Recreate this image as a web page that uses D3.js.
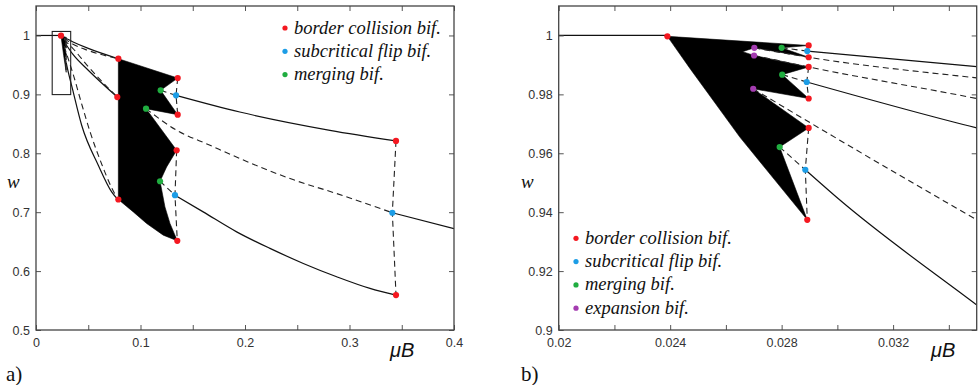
<!DOCTYPE html>
<html>
<head>
<meta charset="utf-8">
<script src="https://cdn.jsdelivr.net/npm/d3@7"></script>
<style>
body { margin: 0; background: #fff; }
svg { display: block; }
.tick text { font-family: "Liberation Sans", Arial, Helvetica, sans-serif; font-size: 12.5px; fill: #333; }
.tick line { stroke: #555; }
.serif { font-family: "Liberation Serif", "Times New Roman", Times, "DejaVu Serif", serif; }
.legend text { font-style: italic; font-size: 18.5px; fill: #111; }
</style>
</head>
<body>
<svg id="fig" width="980" height="385"></svg>
<script>

/////// Data (muB, w) ///////

var tip = [0.0239, 0.9997];
var flatLine = [[0, 1], [0.0239, 1]];

// branches born inside the small box, they run on into panel a
var solid1 = [[0.02892, 0.9947], [0.035, 0.9894], [0.05, 0.978], [0.0788, 0.9605]];
var solid2 = [[0.0289, 0.9842], [0.035, 0.9686], [0.05, 0.941], [0.0778, 0.8954]];
var solid3 = [[0.02885, 0.9544], [0.03008, 0.9442], [0.035, 0.9085], [0.0437, 0.8475], [0.0596, 0.7797], [0.0724, 0.7344], [0.0788, 0.7203]];
var dashed1 = [[0.02702, 0.9958], [0.02897, 0.9926], [0.035, 0.9856], [0.05, 0.9745], [0.0788, 0.9605]];
var dashed2 = [[0.02701, 0.9932], [0.02897, 0.9893], [0.035, 0.9786], [0.05, 0.947], [0.0778, 0.8954]];
var dashed3 = [[0.02698, 0.9819], [0.029, 0.9705], [0.03379, 0.944], [0.035, 0.9374], [0.043, 0.888], [0.052, 0.835], [0.063, 0.781], [0.072, 0.743], [0.0788, 0.7203]];

// small dashed pieces near muB = 0.029
var dashSmall = [
  [[0.0280, 0.9958], [0.02892, 0.9947]],
  [[0.02897, 0.9966], [0.02892, 0.9947], [0.02897, 0.9926]],
  [[0.02802, 0.9867], [0.0289, 0.9842]],
  [[0.02897, 0.9893], [0.0289, 0.9842], [0.02897, 0.9786]],
  [[0.02793, 0.9621], [0.02885, 0.9544]],
  [[0.02897, 0.9686], [0.02885, 0.9544], [0.02892, 0.9374]]
];

// chaotic attractor near the border collision
var chaosB = [[0.0239, 0.9997], [0.02897, 0.9966], [0.0280, 0.9958], [0.02897, 0.9926], [0.02702, 0.9958],
  [0.0266, 0.9945], [0.02701, 0.9932], [0.02897, 0.9893], [0.02802, 0.9867], [0.02897, 0.9786],
  [0.02698, 0.9819], [0.02897, 0.9686], [0.02793, 0.9621], [0.02892, 0.9374], [0.0265, 0.9655], [0.02471, 0.9888]];

// panel a only
var chaosA = [[0.0788, 0.9605], [0.1356, 0.9277], [0.1193, 0.9068], [0.1356, 0.8655], [0.1053, 0.8757],
  [0.1346, 0.805], [0.125, 0.7768], [0.1187, 0.7525], [0.1234, 0.709], [0.1282, 0.681], [0.1352, 0.6514],
  [0.1218, 0.661], [0.1059, 0.6808], [0.0931, 0.7005], [0.0788, 0.7215]];
var solidA = [
  [[0.134, 0.8983], [0.195, 0.870], [0.2813, 0.839], [0.3445, 0.821]],
  [[0.133, 0.7288], [0.16, 0.7005], [0.192, 0.6666], [0.2239, 0.6385], [0.2558, 0.613], [0.2877, 0.5904], [0.3196, 0.5706], [0.3445, 0.5593]],
  [[0.341, 0.699], [0.4, 0.672]]
];
var dashedA = [
  [[0.1193, 0.9068], [0.134, 0.8983]],
  [[0.1356, 0.9277], [0.134, 0.8983], [0.1356, 0.8655]],
  [[0.1053, 0.8757], [0.1346, 0.839], [0.1665, 0.8136], [0.1952, 0.791], [0.2459, 0.7553], [0.2877, 0.7316], [0.341, 0.699]],
  [[0.1346, 0.805], [0.133, 0.7288], [0.1352, 0.6514]],
  [[0.1187, 0.7525], [0.133, 0.7288]],
  [[0.3445, 0.821], [0.341, 0.699], [0.3445, 0.5593]]
];
var zoomBox = [[0.0155, 0.8996], [0.0332, 1.0068]];

// bifurcation points
var redA = [tip, [0.0788, 0.9605], [0.0778, 0.8954], [0.0788, 0.7215], [0.1356, 0.9277], [0.1356, 0.8655],
  [0.1346, 0.805], [0.1352, 0.6514], [0.3445, 0.821], [0.3445, 0.5593]];
var blueA = [[0.134, 0.8983], [0.133, 0.7288], [0.341, 0.699]];
var greenA = [[0.1193, 0.9068], [0.1053, 0.8757], [0.1187, 0.7525]];

var redB = [tip, [0.02897, 0.9966], [0.02897, 0.9926], [0.02897, 0.9893], [0.02897, 0.9786], [0.02897, 0.9686], [0.02892, 0.9374]];
var blueB = [[0.02892, 0.9947], [0.0289, 0.9842], [0.02885, 0.9544]];
var greenB = [[0.0280, 0.9958], [0.02802, 0.9867], [0.02793, 0.9621]];
var magentaB = [[0.02702, 0.9958], [0.02701, 0.9932], [0.02698, 0.9819]];

// ticks
var aXTicks = [0, 0.05, 0.1, 0.15, 0.2, 0.25, 0.3, 0.35, 0.4];
var aXLabels = ["0", "", "0.1", "", "0.2", "", "0.3", "", "0.4"];
var aYTicks = [0.5, 0.6, 0.7, 0.8, 0.9, 1];
var aYLabels = ["0.5", "0.6", "0.7", "0.8", "0.9", "1"];
var bXTicks = [0.02, 0.022, 0.024, 0.026, 0.028, 0.03, 0.032, 0.034];
var bXLabels = ["0.02", "", "0.024", "", "0.028", "", "0.032", ""];
var bYTicks = [0.9, 0.92, 0.94, 0.96, 0.98, 1];
var bYLabels = ["0.9", "0.92", "0.94", "0.96", "0.98", "1"];

var legendA = ["border collision bif.", "subcritical flip bif.", "merging bif."];
var legendB = ["border collision bif.", "subcritical flip bif.", "merging bif.", "expansion bif."];

var col = { red: "#f41820", blue: "#1c9de6", green: "#20ad40", magenta: "#a43cb0" };
var legendCols = [col.red, col.blue, col.green, col.magenta];

/////// Drawing ///////

var svg = d3.select("#fig");

function drawPanel(p) {
    var x = d3.scaleLinear().domain(p.xDomain).range(p.xRange);
    var y = d3.scaleLinear().domain(p.yDomain).range([330, 6]);
    var line = d3.line().x(function(d) { return x(d[0]); }).y(function(d) { return y(d[1]); });
    var curve = d3.line().curve(d3.curveMonotoneX).x(function(d) { return x(d[0]); }).y(function(d) { return y(d[1]); });

    var g = svg.append("g");
    g.append("defs").append("clipPath")
        .attr("id", p.id + "clip")
        .append("rect")
        .attr("x", p.xRange[0]).attr("y", 6)
        .attr("width", p.xRange[1] - p.xRange[0]).attr("height", 324);

    var plot = g.append("g").attr("clip-path", "url(#" + p.id + "clip)");

    // chaotic regions
    p.chaos.forEach(function(poly) {
        plot.append("path").attr("d", line(poly) + "Z")
            .attr("fill", "#000").attr("stroke", "#000").attr("stroke-width", 0.6)
            .attr("stroke-linejoin", "round");
    });

    // solid and dashed branches
    p.solid.forEach(function(s) {
        plot.append("path").attr("d", curve(s))
            .attr("fill", "none").attr("stroke", "#111").attr("stroke-width", 1.2);
    });
    p.dashed.forEach(function(s) {
        var mono = s.every(function(d, i) { return i == 0 || d[0] > s[i - 1][0]; });
        plot.append("path").attr("d", (mono && s.length > 2) ? curve(s) : line(s))
            .attr("fill", "none").attr("stroke", "#222").attr("stroke-width", 1.1)
            .attr("stroke-dasharray", "6,4");
    });

    // bifurcation points
    p.dots.forEach(function(set) {
        plot.selectAll(null).data(set.pts).enter().append("circle")
            .attr("cx", function(d) { return x(d[0]); })
            .attr("cy", function(d) { return y(d[1]); })
            .attr("r", 3.1)
            .attr("fill", set.c);
    });

    if (p.box) {
        g.append("rect")
            .attr("x", x(p.box[0][0])).attr("y", y(p.box[1][1]))
            .attr("width", x(p.box[1][0]) - x(p.box[0][0]))
            .attr("height", y(p.box[0][1]) - y(p.box[1][1]))
            .attr("fill", "none").attr("stroke", "#222").attr("stroke-width", 1.1);
    }

    // axes, MATLAB style ticks pointing in
    function fmt(labels, ticks) { return function(d) { return labels[ticks.indexOf(d)]; }; }
    g.append("g").attr("transform", "translate(0,330)")
        .call(d3.axisBottom(x).tickValues(p.xTicks).tickSize(-5).tickSizeOuter(0).tickPadding(8)
            .tickFormat(fmt(p.xLabels, p.xTicks)));
    g.append("g").attr("transform", "translate(0,6)")
        .call(d3.axisTop(x).tickValues(p.xTicks).tickSize(-5).tickSizeOuter(0).tickFormat(""));
    g.append("g").attr("transform", "translate(" + p.xRange[0] + ",0)")
        .call(d3.axisLeft(y).tickValues(p.yTicks).tickSize(-5).tickSizeOuter(0).tickPadding(6)
            .tickFormat(fmt(p.yLabels, p.yTicks)));
    g.append("g").attr("transform", "translate(" + p.xRange[1] + ",0)")
        .call(d3.axisRight(y).tickValues(p.yTicks).tickSize(-5).tickSizeOuter(0).tickFormat(""));
    g.selectAll(".domain").remove();

    g.append("rect")
        .attr("x", p.xRange[0]).attr("y", 6)
        .attr("width", p.xRange[1] - p.xRange[0]).attr("height", 324)
        .attr("fill", "none").attr("stroke", "#444").attr("stroke-width", 1.3);

    // axis names and panel letter
    g.append("text").attr("class", "serif").attr("x", p.wX).attr("y", 188)
        .attr("font-style", "italic").attr("font-size", "19px").attr("fill", "#111").text("w");
    g.append("text").attr("x", p.muX).attr("y", 357)
        .attr("font-family", "Liberation Sans, Arial, sans-serif").attr("font-style", "italic")
        .attr("font-size", "20px").attr("fill", "#111").text("\u03bcB");
    g.append("text").attr("class", "serif").attr("x", p.letterX).attr("y", 381)
        .attr("font-size", "21px").attr("fill", "#111").text(p.letter);

    // legend
    var lg = g.append("g").attr("class", "legend serif");
    p.legend.forEach(function(t, i) {
        var cy = p.legendY + i * 23.3;
        lg.append("circle").attr("cx", p.legendX).attr("cy", cy).attr("r", 2.6).attr("fill", legendCols[i]);
        lg.append("text").attr("x", p.legendX + 9).attr("y", cy + 5.5).text(t);
    });
}

drawPanel({
    id: "a", xDomain: [0, 0.4], xRange: [36, 454], yDomain: [0.5, 1.05],
    chaos: [chaosA, chaosB],
    solid: [flatLine, solid1, solid2, solid3].concat(solidA),
    dashed: [dashed1, dashed2, dashed3].concat(dashSmall, dashedA),
    dots: [{ pts: redA, c: col.red }, { pts: blueA, c: col.blue }, { pts: greenA, c: col.green }],
    box: zoomBox,
    xTicks: aXTicks, xLabels: aXLabels, yTicks: aYTicks, yLabels: aYLabels,
    wX: 7, muX: 390, letter: "a)", letterX: 6,
    legend: legendA, legendX: 285, legendY: 28
});

drawPanel({
    id: "b", xDomain: [0.02, 0.035], xRange: [558.7, 976.7], yDomain: [0.9, 1.01],
    chaos: [chaosB],
    solid: [flatLine, solid1, solid2, solid3],
    dashed: [dashed1, dashed2, dashed3].concat(dashSmall),
    dots: [{ pts: redB, c: col.red }, { pts: blueB, c: col.blue }, { pts: greenB, c: col.green }, { pts: magentaB, c: col.magenta }],
    box: null,
    xTicks: bXTicks, xLabels: bXLabels, yTicks: bYTicks, yLabels: bYLabels,
    wX: 521, muX: 931, letter: "b)", letterX: 521,
    legend: legendB, legendX: 576, legendY: 238.3
});

</script>
</body>
</html>
